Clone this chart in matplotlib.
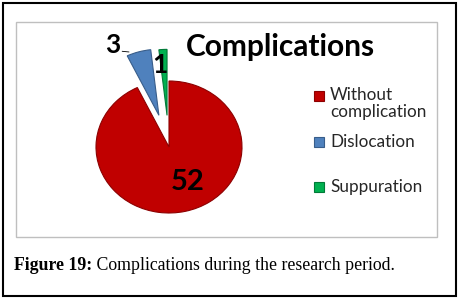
import matplotlib
matplotlib.use('Agg')
import matplotlib.pyplot as plt
import matplotlib.patches as pch
import numpy as np

# data
categories = ['Without\ncomplication', 'Dislocation', 'Suppuration']
counts = [52, 3, 1]
colors = ['#C00000', '#4F81BD', '#00B050']
edges = ['#8C0000', '#385D8A', '#007A38']
explode = [0, 0.5, 0.48]
title = 'Complications'
caption_bold = 'Figure 19:'
caption_text = ' Complications during the research period.'

W, H = 460, 300
fig = plt.figure(figsize=(W / 100, H / 100), dpi=100)

def fx(px):
    return px / W

def fy(py):
    return 1 - py / H

# outer black frame and grey chart frame
fig.patches.append(pch.Rectangle((fx(3), fy(296)), fx(453), 293 / H, transform=fig.transFigure,
                                 fill=False, edgecolor='black', lw=1.5))
fig.patches.append(pch.Rectangle((fx(16), fy(237)), fx(421), 215 / H, transform=fig.transFigure,
                                 fill=False, edgecolor='#BFBFBF', lw=1))

# pie axes: centre at (169,147) px, radius 73 px wide, 66 px tall
cx, cy, rx, ry = 169, 147, 73, 66
half_w, half_h = 140, 117
ax = fig.add_axes([fx(cx - half_w), fy(cy + half_h), 2 * half_w / W, 2 * half_h / H])
wedges, _ = ax.pie(counts, colors=colors, startangle=90, counterclock=False,
                   explode=explode, wedgeprops=dict(linewidth=0.8))
for w, ec in zip(wedges, edges):
    w.set_edgecolor(ec)
ax.set_aspect('auto')
ax.set_xlim(-half_w / rx, half_w / rx)
ax.set_ylim(-half_h / ry, half_h / ry)
ax.axis('off')

# value labels
label_pos = [(0.26, -0.53), (-0.77, 1.54), (-0.12, 1.24)]
for (x, y), v in zip(label_pos, counts):
    ax.text(x, y, str(v), ha='center', va='center', fontsize=21 if v > 10 else 19,
            fontweight='bold', family='Lato', color='black')
# leader line for "3"
ax.plot([-0.64, -0.55], [1.45, 1.44], color='black', lw=0.6)

# title
fig.text(fx(280), fy(47), title, ha='center', va='center', fontsize=21.5,
         fontweight='bold', family='Lato')

# legend
leg_y = [96, 142, 187]
for yy, lab, col, ec in zip(leg_y, categories, colors, edges):
    fig.patches.append(pch.Rectangle((fx(314), fy(yy + 5)), fx(10), 10 / H,
                                     transform=fig.transFigure, facecolor=col,
                                     edgecolor=ec, lw=0.8))
    if '\n' in lab:
        fig.text(fx(330), fy(yy - 9), lab, ha='left', va='top', fontsize=12.3,
                 family='Lato', color='#262626', linespacing=1.1)
    else:
        fig.text(fx(330), fy(yy), lab, ha='left', va='center', fontsize=12.3,
                 family='Lato', color='#262626')

# caption
t = fig.text(fx(14), fy(266), caption_bold, ha='left', va='center', fontsize=12.8,
             fontweight='bold', family='Liberation Serif')
fig.canvas.draw()
bb = t.get_window_extent()
fig.text(bb.x1 / W, fy(266), caption_text, ha='left', va='center', fontsize=12.8,
         family='Liberation Serif')

fig.savefig('out.png', dpi=100)
